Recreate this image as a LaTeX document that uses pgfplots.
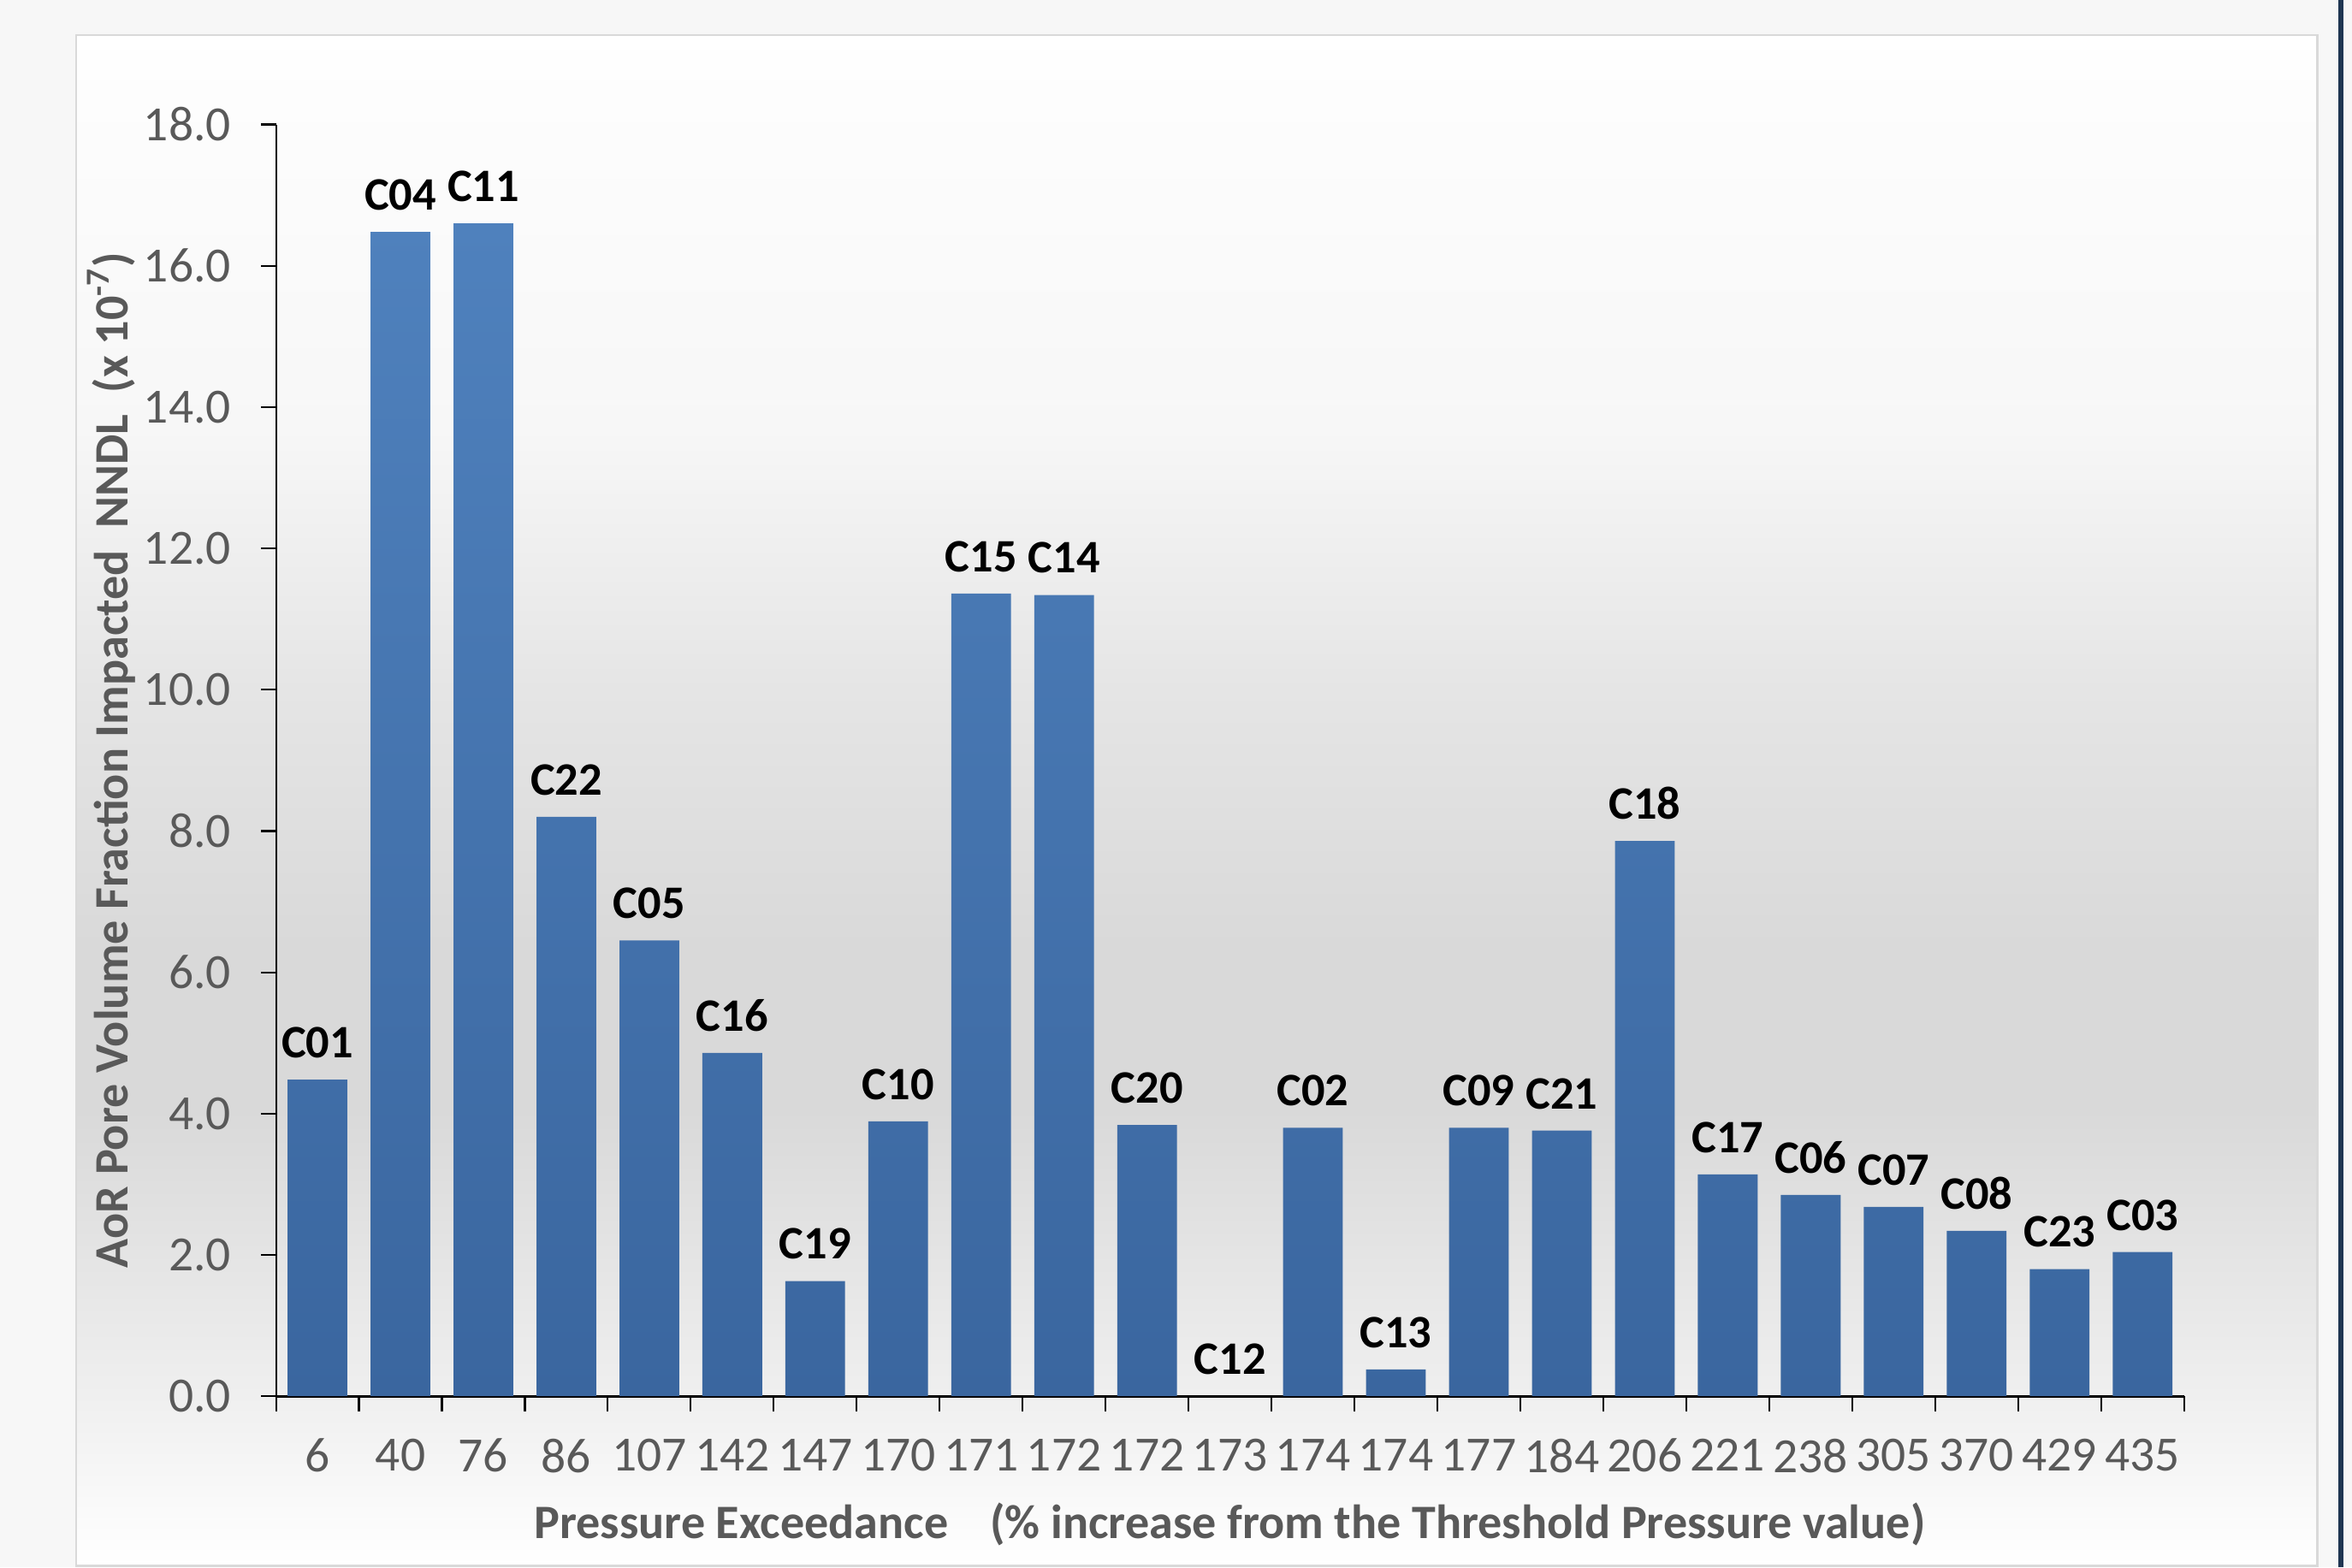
\documentclass[border=0pt]{standalone}
\usepackage{pgfplots}
\pgfplotsset{compat=1.18}
\usepackage{pgfplotstable}
\usepackage{fontspec}
\setmainfont{Carlito}
\definecolor{tickgray}{HTML}{595959}
\definecolor{bgouter}{HTML}{F7F7F7}
\definecolor{panelborder}{HTML}{D9D9D9}
\definecolor{darkline}{HTML}{1F3652}
\definecolor{barTop}{HTML}{4F81BD}
\definecolor{barBot}{HTML}{3A669F}
\pgfdeclareverticalshading{panelbg}{100bp}{rgb(0bp)=(1,1,1); rgb(25bp)=(1,1,1); rgb(30.6bp)=(0.937,0.937,0.937); rgb(39.9bp)=(0.851,0.851,0.851); rgb(45.2bp)=(0.851,0.851,0.851); rgb(53.6bp)=(0.898,0.898,0.898); rgb(62.2bp)=(0.969,0.969,0.969); rgb(73bp)=(0.992,0.992,0.992); rgb(75bp)=(1,1,1); rgb(100bp)=(1,1,1)}

\pgfplotstableread{
x y lab
0 4.48 C01
1 16.48 C04
2 16.60 C11
3 8.20 C22
4 6.45 C05
5 4.86 C16
6 1.63 C19
7 3.89 C10
8 11.36 C15
9 11.34 C14
10 3.84 C20
11 0 C12
12 3.80 C02
13 0.38 C13
14 3.80 C09
15 3.76 C21
16 7.86 C18
17 3.14 C17
18 2.85 C06
19 2.68 C07
20 2.34 C08
21 1.80 C23
22 2.04 C03
}\datatable

\begin{document}
\begin{tikzpicture}
\fill[bgouter] (0,0) rectangle (784pt,522.5pt);
\path[shading=panelbg] (25.4pt,0.5pt) rectangle (772.5pt,510.8pt);
\draw[panelborder, line width=0.7pt] (25.4pt,0.5pt) rectangle (772.5pt,510.8pt);
\fill[darkline] (779.4pt,0) rectangle (781pt,522.5pt);
\begin{axis}[
  at={(92pt,57pt)}, anchor=south west, scale only axis,
  width=636pt, height=424pt,
  xmin=-0.5, xmax=22.5, ymin=0, ymax=18,
  clip=false,
  axis x line=bottom, axis y line=left,
  axis line style={-, black},
  x axis line style={line width=0.9pt},
  y axis line style={line width=0.6pt},
  tick align=outside, major tick length=5pt,
  tick style={black, line width=0.6pt},
  xtick={-0.5,0.5,...,22.5},
  x tick label as interval,
  xticklabels={6,40,76,86,107,142,147,170,171,172,172,173,174,174,177,184,206,221,238,305,370,429,435},
  ytick={0,2,...,18},
  /pgf/number format/assume math mode=true,
  yticklabel style={/pgf/number format/fixed, /pgf/number format/fixed zerofill, /pgf/number format/precision=1, xshift=-6.5pt},
  tick label style={font=\fontsize{16.4}{19}\selectfont, text=tickgray},
  xticklabel style={yshift=-5.7pt},
  xlabel={Pressure Exceedance\hspace{0.65em} (\% increase from the Threshold Pressure value)},
  ylabel={AoR Pore Volume Fraction Impacted\ \ NNDL\ \ (x 10\textsuperscript{-7})},
  label style={font=\bfseries\fontsize{16}{19}\selectfont, text=tickgray},
  xlabel style={at={([yshift=-47.5pt]axis description cs:0.5,0)}, anchor=base},
  ylabel style={at={([xshift=-49.5pt]axis description cs:0,0.5)}, anchor=base},
]
\addplot[ybar, bar width=0.72, draw=none, top color=barTop, bottom color=barBot,
  point meta=explicit symbolic, nodes near coords,
  nodes near coords style={font=\bfseries\fontsize{15.5}{18}\selectfont, text=black, anchor=south, inner sep=0pt, yshift=7pt}]
  table[x=x, y=y, meta=lab] {\datatable};
\end{axis}
\pgfresetboundingbox
\path[use as bounding box] (0,0) rectangle (784pt,522.5pt);
\end{tikzpicture}
\end{document}
